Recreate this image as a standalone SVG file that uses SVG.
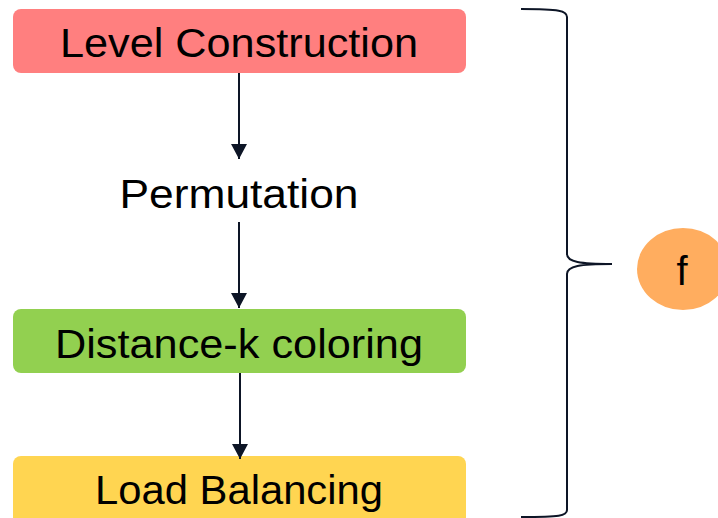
<svg xmlns="http://www.w3.org/2000/svg" width="718" height="518" viewBox="0 0 718 518">
  <style>
    .lbl { font-family: "Liberation Sans", Arial, sans-serif; font-size: 40px; fill: #000; text-anchor: middle; }
    .conn { stroke: #0D1526; stroke-width: 2; fill: none; }
    .brace { stroke: #0D1526; stroke-width: 2; fill: none; }
  </style>
  <defs>
    <marker id="arrow" markerWidth="16" markerHeight="16" viewBox="0 0 16 16" refX="15" refY="8" orient="auto" markerUnits="userSpaceOnUse">
      <path d="M0,0 L15,8 L0,16 Z" fill="#0D1526"/>
    </marker>
  </defs>

  <rect width="718" height="518" fill="#FFFFFF"/>

  <g id="node-level-construction">
    <rect x="13" y="9" width="453" height="64" rx="8" fill="#FF7F7F"/>
    <text class="lbl" x="239" y="57" textLength="358" lengthAdjust="spacingAndGlyphs">Level Construction</text>
  </g>

  <g id="node-permutation">
    <text class="lbl" x="239" y="208" textLength="239" lengthAdjust="spacingAndGlyphs">Permutation</text>
  </g>

  <g id="node-distance-k">
    <rect x="13" y="309" width="453" height="64" rx="8" fill="#92D050"/>
    <text class="lbl" x="239" y="358" textLength="368" lengthAdjust="spacingAndGlyphs">Distance-k coloring</text>
  </g>

  <g id="node-load-balancing">
    <rect x="13" y="456" width="453" height="80" rx="8" fill="#FFD551"/>
    <text class="lbl" x="239" y="504" textLength="288" lengthAdjust="spacingAndGlyphs">Load Balancing</text>
  </g>

  <g id="node-f">
    <ellipse cx="683" cy="269" rx="46" ry="41" fill="#FFAD5F"/>
    <text class="lbl" x="682" y="285">f</text>
  </g>

  <g id="connectors">
    <line class="conn" x1="239" y1="73" x2="239" y2="159" marker-end="url(#arrow)"/>
    <line class="conn" x1="239" y1="222" x2="239" y2="308" marker-end="url(#arrow)"/>
    <line class="conn" x1="240" y1="373" x2="240" y2="459" marker-end="url(#arrow)"/>
    <path class="brace" d="M521,9 C560,9 567,11 567,17 L567,254 C567,262 580,264 612,264 C580,264 567,266 567,274 L567,510 C567,516 560,517 521,517"/>
  </g>
</svg>
